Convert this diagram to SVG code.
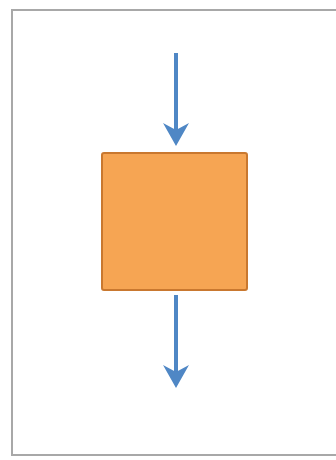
<svg xmlns="http://www.w3.org/2000/svg" width="336" height="460" viewBox="0 0 336 460">
<style>
.frame{fill:#ffffff;stroke:#a8a8a8;stroke-width:2}
.box{fill:#F6A553;stroke:#C9782F;stroke-width:2}
.conn{stroke:#4F87C5;stroke-width:4;fill:none}
.head{fill:#4F87C5}
</style>
<rect width="336" height="460" fill="#ffffff"/>
<rect class="frame" x="12" y="10" width="340" height="445"/>
<g id="connectors">
<line class="conn" x1="176" y1="53" x2="176" y2="130"/>
<polygon class="head" points="163,123 176,130 189,123 176,146"/>
<line class="conn" x1="176" y1="295" x2="176" y2="372"/>
<polygon class="head" points="163,365 176,372 189,365 176,388"/>
</g>
<g id="box">
<rect class="box" x="102" y="153" width="145" height="137" rx="2"/>
</g>
</svg>
